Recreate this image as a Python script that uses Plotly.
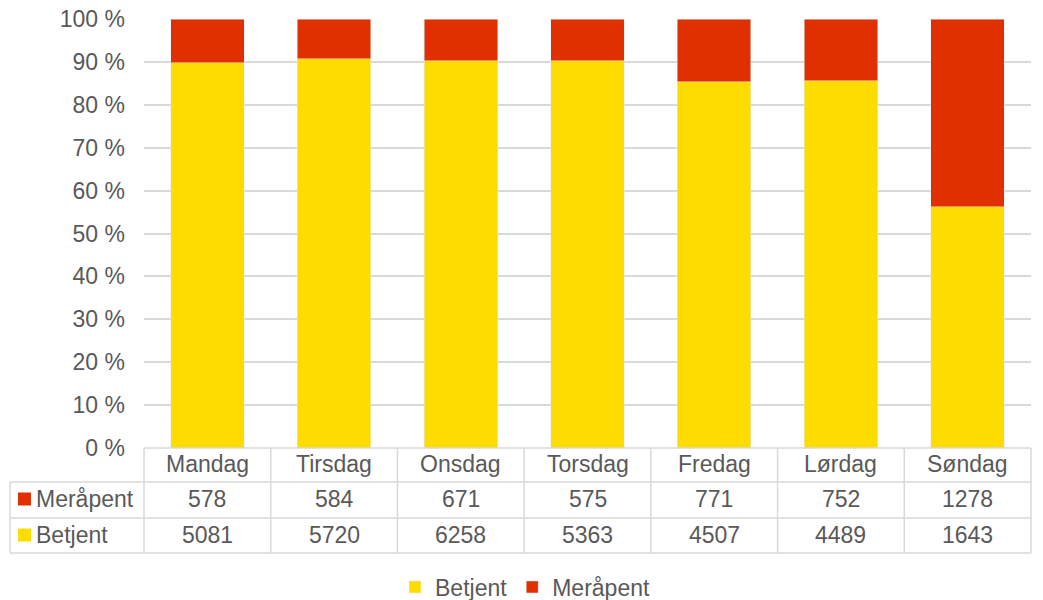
import plotly.graph_objects as go

days = ["Mandag", "Tirsdag", "Onsdag", "Torsdag", "Fredag", "Lørdag", "Søndag"]
betjent = [5081, 5720, 6258, 5363, 4507, 4489, 1643]
meraapent = [578, 584, 671, 575, 771, 752, 1278]
series_names = ["Betjent", "Meråpent"]
colors = {"Betjent": "#FFDC00", "Meråpent": "#E03000"}
yticks = list(range(0, 101, 10))
yticklabels = [f"{v} %" for v in yticks]

W, H = 1043, 600
L_PIX, R_PIX, T_PIX, B_PIX = 144, 1031, 19, 448
ml, mt = L_PIX, T_PIX
mr = W - R_PIX
mb = H - B_PIX
pw, ph = W - ml - mr, H - mt - mb

def py(pix):
    return (B_PIX - pix) / ph

def px(pix):
    return (pix - L_PIX) / pw

fig = go.Figure()
fig.add_trace(go.Bar(x=days, y=betjent, name="Betjent", marker_color=colors["Betjent"]))
fig.add_trace(go.Bar(x=days, y=meraapent, name="Meråpent", marker_color=colors["Meråpent"]))

grid = "#D9D9D9"
font_col = "#595959"
fsize = 23

shapes = []
row_lines = [448, 482, 518, 553]
for i, yl in enumerate(row_lines):
    x0 = 0 if i <= 0 else px(10)
    shapes.append(dict(type="line", xref="paper", yref="paper", x0=x0, x1=1, y0=py(yl), y1=py(yl),
                       line=dict(color=grid, width=1.5)))
n = len(days)
for k in range(n + 1):
    xv = k / n
    shapes.append(dict(type="line", xref="paper", yref="paper", x0=xv, x1=xv, y0=py(448), y1=py(553),
                       line=dict(color=grid, width=1.5)))
shapes.append(dict(type="line", xref="paper", yref="paper", x0=px(10), x1=px(10), y0=py(482), y1=py(553),
                   line=dict(color=grid, width=1.5)))

annotations = []
rows = [("Meråpent", meraapent, 499), ("Betjent", betjent, 535)]
for d in days:
    annotations.append(dict(x=d, xref="x", y=py(464), yref="paper", yanchor="middle", text=d, showarrow=False,
                            font=dict(size=fsize, color=font_col)))
for name, vals, yc in rows:
    shapes.append(dict(type="rect", xref="paper", yref="paper", x0=px(18), x1=px(31),
                       y0=py(yc + 6.5), y1=py(yc - 6.5), fillcolor=colors[name], line=dict(width=0)))
    annotations.append(dict(x=px(34), xref="paper", xanchor="left", y=py(yc), yref="paper", yanchor="middle",
                            text=name, showarrow=False, font=dict(size=fsize, color=font_col)))
    for d, v in zip(days, vals):
        annotations.append(dict(x=d, xref="x", y=py(yc), yref="paper", yanchor="middle", text=str(v),
                                showarrow=False, font=dict(size=fsize, color=font_col)))

fig.update_layout(
    width=W, height=H,
    margin=dict(l=ml, r=mr, t=mt, b=mb, autoexpand=False),
    barmode="stack", barnorm="percent", bargap=0.42,
    plot_bgcolor="white", paper_bgcolor="white",
    font=dict(family="Liberation Sans, Arial, sans-serif", size=fsize, color=font_col),
    xaxis=dict(showticklabels=False, showgrid=False, zeroline=False, showline=False),
    yaxis=dict(range=[0, 100], tickmode="array", tickvals=yticks, ticktext=yticklabels,
               gridcolor=grid, gridwidth=1.5, automargin=False, ticklabeloverflow="allow",
               ticklabelstandoff=18,
               zeroline=False, showline=False, ticks="", tickfont=dict(size=fsize, color=font_col)),
    legend=dict(orientation="h", x=525 / W, xref="container", xanchor="center",
                y=1 - 587 / H, yref="container", yanchor="middle",
                font=dict(size=fsize, color=font_col), traceorder="normal"),
    shapes=shapes, annotations=annotations,
)

fig.write_html("out.html", config={"displayModeBar": False},
               post_script="document.body.style.margin='0';")
